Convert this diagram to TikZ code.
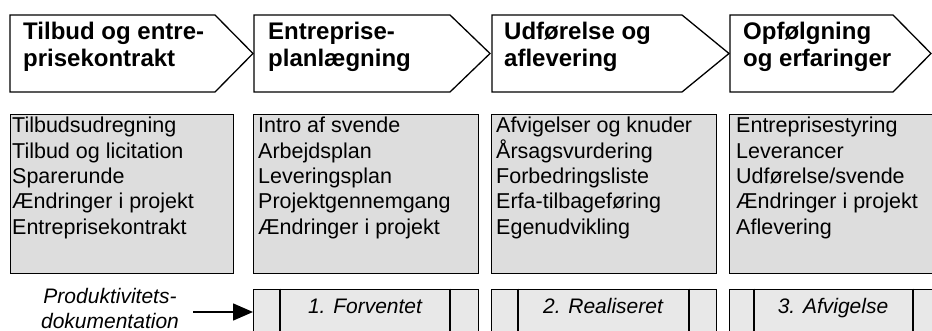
\documentclass[tikz,border=0pt]{standalone}
\usepackage{fontspec}
\setmainfont{Liberation Sans}
\usetikzlibrary{arrows.meta}
\definecolor{boxgray}{RGB}{221,221,221}
\definecolor{lowgray}{RGB}{232,232,232}
\begin{document}
\begin{tikzpicture}[x=1pt,y=-1pt,
  chev/.style={draw=black,line width=1.3pt,fill=white,line join=miter},
  titletext/.style={inner sep=0pt,anchor=base west,font=\fontsize{24}{27}\selectfont\bfseries},
  graybox/.style={draw=black,line width=1.3pt,fill=boxgray,rectangle,inner sep=0pt,anchor=north west},
  lowbox/.style={draw=black,line width=1.3pt,fill=lowgray,rectangle,inner sep=0pt,anchor=north west},
  listtext/.style={inner sep=0pt,anchor=base west,font=\fontsize{21.5}{25.3}\selectfont},
  lowtext/.style={inner sep=0pt,anchor=base,font=\fontsize{21}{25}\selectfont\itshape},
  divider/.style={draw=black,line width=1.3pt}]
\useasboundingbox (0,0) rectangle (932,331);
\clip (0,0) rectangle (932,331);
\fill[white] (0,0) rectangle (932,331);

% chevrons
\draw[chev] (10,15) -- (215,15) -- (253,53.5) -- (215,92) -- (10,92) -- cycle;
\draw[chev] (254,15) -- (450,15) -- (490,53.5) -- (450,92) -- (254,92) -- cycle;
\draw[chev] (492,15) -- (682,15) -- (729,53.5) -- (682,92) -- (492,92) -- cycle;
\draw[chev] (730,15) -- (893,15) -- (931,53.5) -- (893,92) -- (730,92) -- cycle;

\node[titletext] (t1) at (23,40) {\parbox[t]{200pt}{\raggedright Tilbud og entre-\\prisekontrakt}};
\node[titletext] (t2) at (268,40) {\parbox[t]{200pt}{\raggedright Entreprise-\\planlægning}};
\node[titletext] (t3) at (504,40) {\parbox[t]{200pt}{\raggedright Udførelse og\\aflevering}};
\node[titletext] (t4) at (743,40) {\parbox[t]{200pt}{\raggedright Opfølgning\\og erfaringer}};

% gray boxes
\node[graybox,minimum width=223pt,minimum height=159pt] (g1) at (10,114) {};
\node[graybox,minimum width=225pt,minimum height=159pt] (g2) at (253,114) {};
\node[graybox,minimum width=225pt,minimum height=159pt] (g3) at (491,114) {};
\node[graybox,minimum width=225pt,minimum height=159pt] (g4) at (729,114) {};

\node[listtext] (l1) at (12,133) {\parbox[t]{220pt}{\raggedright Tilbudsudregning\\Tilbud og licitation\\Sparerunde\\Ændringer i projekt\\Entreprisekontrakt}};
\node[listtext] (l2) at (258,133) {\parbox[t]{220pt}{\raggedright Intro af svende\\Arbejdsplan\\Leveringsplan\\Projektgennemgang\\Ændringer i projekt}};
\node[listtext] (l3) at (496,133) {\parbox[t]{220pt}{\raggedright Afvigelser og knuder\\Årsagsvurdering\\Forbedringsliste\\Erfa-tilbageføring\\Egenudvikling}};
\node[listtext] (l4) at (736,133) {\parbox[t]{220pt}{\raggedright Entreprisestyring\\Leverancer\\Udførelse/svende\\Ændringer i projekt\\Aflevering}};

% lower boxes
\node[lowbox,minimum width=225pt,minimum height=70pt] (b2) at (253,288.5) {};
\node[lowbox,minimum width=225pt,minimum height=70pt] (b3) at (491,288.5) {};
\node[lowbox,minimum width=225pt,minimum height=70pt] (b4) at (729,288.5) {};
\draw[divider] ([xshift=27pt]b2.north west) -- ([xshift=27pt]b2.south west);
\draw[divider] ([xshift=197pt]b2.north west) -- ([xshift=197pt]b2.south west);
\draw[divider] ([xshift=27pt]b3.north west) -- ([xshift=27pt]b3.south west);
\draw[divider] ([xshift=198pt]b3.north west) -- ([xshift=198pt]b3.south west);
\draw[divider] ([xshift=25pt]b4.north west) -- ([xshift=25pt]b4.south west);
\draw[divider] ([xshift=184pt]b4.north west) -- ([xshift=184pt]b4.south west);

\node[lowtext] (f1) at (365,313) {1. Forventet};
\node[lowtext] (f2) at (603,313) {2. Realiseret};
\node[lowtext] (f3) at (833,313) {3. Afvigelse};

% label and arrow
\node[inner sep=0pt,anchor=base,font=\fontsize{21}{25}\selectfont\itshape] (lab) at (110,303) {\parbox[t]{170pt}{\centering Produktivitets-\\dokumentation}};
\coordinate (astart) at (193,312);
\draw[line width=1.5pt,-{Triangle[length=20pt,width=17pt]}] (astart) -- (b2.west |- astart);
\end{tikzpicture}
\end{document}
